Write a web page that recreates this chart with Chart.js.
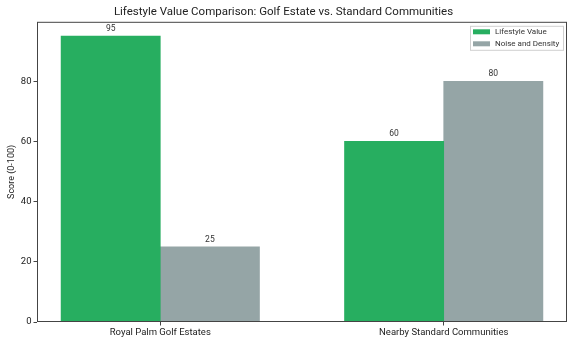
<!DOCTYPE html>
<html lang="en">
<head>
  <meta charset="UTF-8">
  <title>Lifestyle Value Comparison</title>
  <script src="https://cdn.jsdelivr.net/npm/chart.js"></script>
  <style>
    html, body { margin: 0; padding: 0; background: #fff; }
    #wrap { width: 576px; height: 346px; }
  </style>
</head>
<body>
  <div id="wrap"><canvas id="grafico"></canvas></div>

  <script>
    const categories = ['Royal Palm Golf Estates', 'Nearby Standard Communities'];
    const lifestyleValue = [95, 60];
    const noiseDensity = [25, 80];
    const yTicks = [0, 20, 40, 60, 80];

    const FONT = 'Roboto, "Open Sans", sans-serif';
    const BAR_W = 0.35;
    const AXIS_COLOR = '#444';

    // bars sit side by side around each category position
    const toPoints = (vals, shift) => vals.map((v, i) => ({ x: i + shift, y: v }));

    // full box around the plot, like matplotlib spines
    const frame = {
      id: 'frame',
      afterDatasetsDraw(chart) {
        const { ctx, chartArea: a } = chart;
        ctx.save();
        ctx.strokeStyle = AXIS_COLOR;
        ctx.lineWidth = 1;
        ctx.strokeRect(a.left + 0.5, a.top + 0.5, a.right - a.left - 1, a.bottom - a.top - 1);
        ctx.restore();
      }
    };

    // value labels on top of each bar
    const valueLabels = {
      id: 'valueLabels',
      afterDatasetsDraw(chart) {
        const { ctx } = chart;
        ctx.save();
        ctx.font = '8.5px ' + FONT;
        ctx.fillStyle = '#333';
        ctx.textAlign = 'center';
        ctx.textBaseline = 'bottom';
        chart.data.datasets.forEach((ds, di) => {
          chart.getDatasetMeta(di).data.forEach((bar, i) => {
            ctx.fillText(String(ds.data[i].y), bar.x, bar.y - 3);
          });
        });
        ctx.restore();
      }
    };

    // legend drawn inside the plot, top right
    const innerLegend = {
      id: 'innerLegend',
      afterDraw(chart) {
        const { ctx, chartArea: a } = chart;
        const w = 93, h = 24;
        const x = a.right - 4 - w, y = a.top + 4;
        ctx.save();
        ctx.fillStyle = 'rgba(255,255,255,0.8)';
        ctx.strokeStyle = '#d0d0d0';
        ctx.lineWidth = 1;
        ctx.fillRect(x + 0.5, y + 0.5, w, h);
        ctx.strokeRect(x + 0.5, y + 0.5, w, h);
        ctx.font = '8px ' + FONT;
        ctx.textBaseline = 'middle';
        chart.data.datasets.forEach((ds, i) => {
          const cy = y + 6 + i * 12;
          ctx.fillStyle = ds.backgroundColor;
          ctx.fillRect(x + 3, cy - 2.5, 17, 5);
          ctx.fillStyle = '#333';
          ctx.fillText(ds.label, x + 25, cy);
        });
        ctx.restore();
      }
    };

    new Chart(document.getElementById('grafico'), {
      type: 'bar',
      data: {
        datasets: [{
          label: 'Lifestyle Value',
          data: toPoints(lifestyleValue, -BAR_W / 2),
          backgroundColor: '#27ae60'
        }, {
          label: 'Noise and Density',
          data: toPoints(noiseDensity, BAR_W / 2),
          backgroundColor: '#95a5a6'
        }]
      },
      plugins: [frame, valueLabels, innerLegend],
      options: {
        responsive: true,
        maintainAspectRatio: false,
        animation: false,
        grouped: false,
        barPercentage: 1,
        categoryPercentage: 1,
        layout: { padding: { left: 0, right: 9, top: 0, bottom: 0 } },
        plugins: {
          legend: { display: false },
          tooltip: { enabled: false },
          title: {
            display: true,
            text: 'Lifestyle Value Comparison: Golf Estate vs. Standard Communities',
            color: '#222',
            font: { family: FONT, size: 11.5, weight: 'normal' },
            padding: { top: 5, bottom: 3 }
          }
        },
        scales: {
          x: {
            type: 'linear',
            offset: false,
            min: -0.435,
            max: 1.435,
            afterBuildTicks(scale) {
              scale.ticks = categories.map((c, i) => ({ value: i }));
            },
            afterFit(scale) { scale.height = 24; },
            ticks: {
              color: '#222',
              font: { family: FONT, size: 9.5 },
              padding: 1,
              maxRotation: 0,
              callback: (v) => categories[v]
            },
            grid: { offset: false, drawOnChartArea: false, drawTicks: true, tickLength: 3.5, color: AXIS_COLOR },
            border: { display: false }
          },
          y: {
            min: 0,
            max: 99.75,
            afterBuildTicks(scale) {
              scale.ticks = yTicks.map(v => ({ value: v }));
            },
            afterFit(scale) { scale.width = 37; },
            ticks: {
              color: '#222',
              font: { family: FONT, size: 9.5 },
              padding: 2
            },
            title: {
              display: true,
              text: 'Score (0-100)',
              color: '#222',
              font: { family: FONT, size: 9 },
              padding: { top: 6, bottom: 2 }
            },
            grid: { drawOnChartArea: false, drawTicks: true, tickLength: 3.5, color: AXIS_COLOR },
            border: { display: false }
          }
        }
      }
    });
  </script>
</body>
</html>
